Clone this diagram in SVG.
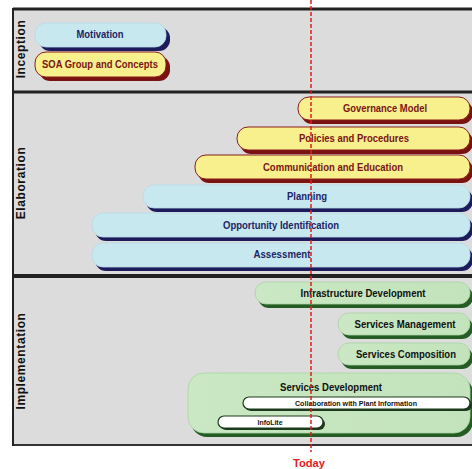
<svg xmlns="http://www.w3.org/2000/svg" width="472" height="469" viewBox="0 0 472 469">
  <style>
    .lbl { font-family: "Liberation Sans", Arial, sans-serif; font-weight: bold; font-size: 11px; text-anchor: middle; }
    .sm { font-size: 8px; fill: #111; }
    .phase { font-family: "Liberation Sans", Arial, sans-serif; font-weight: bold; font-size: 12px; text-anchor: middle; fill: #111; letter-spacing: 0.6px; }
    .y-fill { fill: #f7f08c; stroke: #8a1c1c; stroke-width: 1; }
    .y-sh { fill: #7a1212; }
    .y-txt { fill: #7a1414; }
    .b-fill { fill: #c7e8ef; stroke: #b6dbe4; stroke-width: 0.8; }
    .b-sh { fill: #1c1c5c; }
    .b-txt { fill: #1c2466; }
    .g-fill { fill: url(#gGreen); stroke: #a9d3a2; stroke-width: 0.8; }
    .g-sh { fill: #245c24; }
    .g-txt { fill: #111; }
    .w-fill { fill: #ffffff; stroke: #1e3a1e; stroke-width: 1.2; }
    .w-sh { fill: #1a3a1a; }
  </style>
  <defs>
    <linearGradient id="gGreen" x1="0" y1="0" x2="1" y2="0">
      <stop offset="0" stop-color="#c9e8c3"/>
      <stop offset="1" stop-color="#c3e3bc"/>
    </linearGradient>
  </defs>

  <!-- phase frame -->
  <g id="frame">
    <rect x="13" y="9" width="462" height="436" fill="#dcdcdc"/>
    <line x1="13" y1="9" x2="472" y2="9" stroke="#222" stroke-width="3"/>
    <line x1="13" y1="92" x2="472" y2="92" stroke="#222" stroke-width="3"/>
    <line x1="13" y1="276" x2="472" y2="276" stroke="#222" stroke-width="4"/>
    <line x1="13" y1="445" x2="472" y2="445" stroke="#333" stroke-width="2"/>
    <line x1="13" y1="8" x2="13" y2="446" stroke="#222" stroke-width="2"/>
    <text class="phase" transform="translate(25,49) rotate(-90)">Inception</text>
    <text class="phase" transform="translate(25,183) rotate(-90)">Elaboration</text>
    <text class="phase" transform="translate(25,361) rotate(-90)">Implementation</text>
  </g>

  <!-- Inception -->
  <g id="motivation">
    <rect class="b-sh" x="39" y="27" width="131" height="24" rx="11"/>
    <rect class="b-fill" x="35" y="23" width="131" height="24" rx="11"/>
    <text class="lbl b-txt" x="100" y="38" textLength="47" lengthAdjust="spacingAndGlyphs">Motivation</text>
  </g>
  <g id="soa-group">
    <rect class="y-sh" x="39" y="56" width="131" height="25" rx="11"/>
    <rect class="y-fill" x="35" y="52" width="131" height="25" rx="11"/>
    <text class="lbl y-txt" x="100" y="68" textLength="116" lengthAdjust="spacingAndGlyphs">SOA Group and Concepts</text>
  </g>

  <!-- Elaboration -->
  <g id="governance-model">
    <rect class="y-sh" x="301" y="101" width="172" height="23" rx="11"/>
    <rect class="y-fill" x="298" y="97" width="172" height="23" rx="11"/>
    <text class="lbl y-txt" x="385" y="112" textLength="84" lengthAdjust="spacingAndGlyphs">Governance Model</text>
  </g>
  <g id="policies">
    <rect class="y-sh" x="240" y="131" width="233" height="23" rx="11"/>
    <rect class="y-fill" x="237" y="127" width="233" height="23" rx="11"/>
    <text class="lbl y-txt" x="354" y="142" textLength="110" lengthAdjust="spacingAndGlyphs">Policies and Procedures</text>
  </g>
  <g id="communication">
    <rect class="y-sh" x="198" y="159" width="275" height="24" rx="11"/>
    <rect class="y-fill" x="195" y="155" width="275" height="24" rx="11"/>
    <text class="lbl y-txt" x="333" y="171" textLength="140" lengthAdjust="spacingAndGlyphs">Communication and Education</text>
  </g>
  <g id="planning">
    <rect class="b-sh" x="146" y="189" width="327" height="23" rx="11"/>
    <rect class="b-fill" x="143" y="185" width="327" height="23" rx="11"/>
    <text class="lbl b-txt" x="307" y="200" textLength="40" lengthAdjust="spacingAndGlyphs">Planning</text>
  </g>
  <g id="opportunity">
    <rect class="b-sh" x="95" y="217" width="378" height="24" rx="11"/>
    <rect class="b-fill" x="92" y="213" width="378" height="24" rx="11"/>
    <text class="lbl b-txt" x="281" y="229" textLength="116" lengthAdjust="spacingAndGlyphs">Opportunity Identification</text>
  </g>
  <g id="assessment">
    <rect class="b-sh" x="95" y="247" width="378" height="24" rx="11"/>
    <rect class="b-fill" x="92" y="243" width="378" height="24" rx="11"/>
    <text class="lbl b-txt" x="282" y="258" textLength="57" lengthAdjust="spacingAndGlyphs">Assessment</text>
  </g>

  <!-- Implementation -->
  <g id="infrastructure">
    <rect class="g-sh" x="258" y="286" width="215" height="22" rx="11"/>
    <rect class="g-fill" x="255" y="282" width="215" height="22" rx="11"/>
    <text class="lbl g-txt" x="363" y="297" textLength="125" lengthAdjust="spacingAndGlyphs">Infrastructure Development</text>
  </g>
  <g id="services-management">
    <rect class="g-sh" x="341" y="317" width="132" height="22" rx="11"/>
    <rect class="g-fill" x="338" y="313" width="132" height="22" rx="11"/>
    <text class="lbl g-txt" x="405" y="328" textLength="101" lengthAdjust="spacingAndGlyphs">Services Management</text>
  </g>
  <g id="services-composition">
    <rect class="g-sh" x="341" y="347" width="132" height="22" rx="11"/>
    <rect class="g-fill" x="338" y="343" width="132" height="22" rx="11"/>
    <text class="lbl g-txt" x="406" y="358" textLength="100" lengthAdjust="spacingAndGlyphs">Services Composition</text>
  </g>
  <g id="services-development">
    <rect class="g-sh" x="191" y="377" width="282" height="60" rx="16"/>
    <rect class="g-fill" x="188" y="373" width="282" height="60" rx="16"/>
    <text class="lbl g-txt" x="331" y="391" textLength="102" lengthAdjust="spacingAndGlyphs">Services Development</text>
  </g>
  <g id="collaboration">
    <rect class="w-sh" x="245" y="399" width="227" height="12" rx="6"/>
    <rect class="w-fill" x="243" y="397" width="227" height="12" rx="6"/>
    <text class="lbl sm" x="356" y="406" textLength="122" lengthAdjust="spacingAndGlyphs">Collaboration with Plant Information</text>
  </g>
  <g id="infolite">
    <rect class="w-sh" x="220" y="418" width="105" height="12" rx="6"/>
    <rect class="w-fill" x="218" y="416" width="105" height="12" rx="6"/>
    <text class="lbl sm" x="270" y="425" textLength="25" lengthAdjust="spacingAndGlyphs">InfoLite</text>
  </g>

  <!-- today marker -->
  <g id="today">
    <line x1="311" y1="0" x2="311" y2="452" stroke="#e41b1b" stroke-width="1.5" stroke-dasharray="4 2"/>
    <text class="lbl" x="309" y="467" fill="#e41b1b" font-size="12" textLength="32" lengthAdjust="spacingAndGlyphs">Today</text>
  </g>
</svg>
